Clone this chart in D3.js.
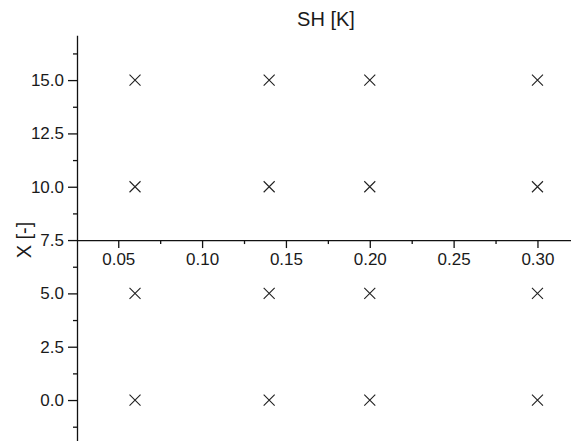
<!DOCTYPE html>
<html>
<head>
<meta charset="utf-8">
<script src="https://cdn.jsdelivr.net/npm/d3@7"></script>
<style>
  body { margin: 0; background: #fff; }
  text { font-family: "Liberation Sans", Arial, sans-serif; fill: #1a1a1a; }
</style>
</head>
<body>
<div id="chart"></div>
<script>
// data
let shValues = [0.06, 0.14, 0.20, 0.30]
let xValues = [0, 5, 10, 15]
let shTicks = [0.05, 0.10, 0.15, 0.20, 0.25, 0.30]
let shMinor = [0.075, 0.125, 0.175, 0.225, 0.275]
let xTicks = [0, 2.5, 5, 7.5, 10, 12.5, 15]
let xMinor = [-1.25, 1.25, 3.75, 6.25, 8.75, 11.25, 13.75, 16.25]

let W = 571, H = 441
let svg = d3.select('#chart').append('svg')
    .attr('width', W).attr('height', H)

let scX = d3.scaleLinear().domain([0.0254, 0.32]).range([77, 571])
let scY = d3.scaleLinear().domain([-2, 17.1]).range([442.7, 35.3])

let points = []
shValues.forEach(sh => xValues.forEach(x => points.push({sh: sh, x: x})))

// y axis (left)
let yAxis = d3.axisLeft(scY).tickValues(xTicks).tickFormat(d3.format('.1f'))
    .tickSize(9).tickSizeOuter(0).tickPadding(4)
let gy = svg.append('g').attr('transform', `translate(${scX.range()[0]},0)`).call(yAxis)
gy.selectAll('text').attr('font-size', '17px')
svg.append('g').attr('transform', `translate(${scX.range()[0]},0)`)
    .call(d3.axisLeft(scY).tickValues(xMinor).tickFormat('').tickSize(4).tickSizeOuter(0))
    .select('.domain').remove()

// x axis crossing at 7.5
let yCross = scY(7.5)
let xAxis = d3.axisBottom(scX).tickValues(shTicks).tickFormat(d3.format('.2f'))
    .tickSize(8).tickSizeOuter(0).tickPadding(5)
let gx = svg.append('g').attr('transform', `translate(0,${yCross})`).call(xAxis)
gx.selectAll('text').attr('font-size', '17px')
svg.append('g').attr('transform', `translate(0,${yCross})`)
    .call(d3.axisBottom(scX).tickValues(shMinor).tickFormat('').tickSize(4).tickSizeOuter(0))
    .select('.domain').remove()

svg.selectAll('.domain, .tick line').attr('stroke', '#111').attr('stroke-width', 1.3)

// markers
let s = 5.5
let g = svg.append('g')
points.forEach(p => {
    let cx = scX(p.sh), cy = scY(p.x)
    g.append('path')
        .attr('d', `M${cx - s},${cy - s}L${cx + s},${cy + s}M${cx - s},${cy + s}L${cx + s},${cy - s}`)
        .attr('stroke', '#222')
        .attr('stroke-width', 1.1)
        .attr('fill', 'none')
})

// titles
svg.append('text')
    .attr('x', 326).attr('y', 26)
    .attr('text-anchor', 'middle')
    .attr('font-size', '20px')
    .text('SH [K]')

svg.append('text')
    .attr('transform', `translate(31,240) rotate(-90)`)
    .attr('text-anchor', 'middle')
    .attr('font-size', '20px')
    .text('X [-]')
</script>
</body>
</html>
